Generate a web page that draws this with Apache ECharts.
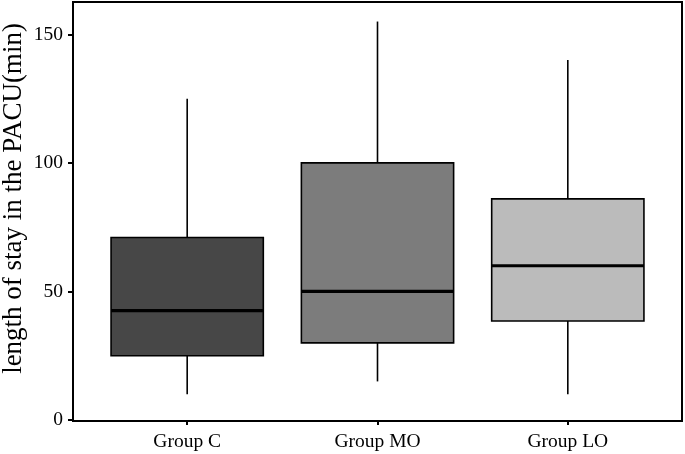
<!DOCTYPE html>
<html>
<head>
<meta charset="utf-8">
<script src="https://cdn.jsdelivr.net/npm/echarts@6/dist/echarts.min.js"></script>
<style>html,body{margin:0;padding:0;background:#fff}#c{width:685px;height:454px}</style>
</head>
<body>
<div id="c"></div>
<script>
// Data
const groups = ['Group C', 'Group MO', 'Group LO'];
const whiskerLow = [10, 15, 10];
const q1 = [25, 30, 38.5];
const median = [42.5, 50, 60];
const q3 = [71, 100, 86];
const whiskerHigh = [125, 155, 140];
const yTicks = [0, 50, 100, 150];
const yTitle = 'length of stay in the PACU(min)';

// Styles
const fills = ['#474747', '#7c7c7c', '#bbbbbb'];
const FONT = "'Liberation Serif', 'DejaVu Serif', serif";

const positions = groups.map((g, i) => i + 1);
const boxData = groups.map((g, i) => [positions[i], whiskerLow[i], q1[i], median[i], q3[i], whiskerHigh[i]]);

const chart = echarts.init(document.getElementById('c'), null, {renderer: 'canvas'});
chart.setOption({
  animation: false,
  backgroundColor: '#fff',
  grid: {left: 73, right: 3, top: 2, bottom: 33, show: true, borderColor: '#000', borderWidth: 2, backgroundColor: 'transparent'},
  xAxis: {
    type: 'value', min: 0.4, max: 3.6,
    splitLine: {show: false},
    axisLine: {show: false},
    axisTick: {show: true, length: 5, lineStyle: {color: '#000', width: 2}, customValues: positions},
    axisLabel: {
      customValues: positions, margin: 11,
      color: '#000', fontFamily: FONT, fontSize: 19.5,
      formatter: v => groups[Math.round(v) - 1] || ''
    }
  },
  yAxis: {
    type: 'value', min: -0.4, max: 162.6,
    splitLine: {show: false},
    axisLine: {show: false},
    axisTick: {show: true, length: 5, lineStyle: {color: '#000', width: 2}, customValues: yTicks},
    axisLabel: {customValues: yTicks, margin: 10, color: '#000', fontFamily: FONT, fontSize: 19.5}
  },
  graphic: [{
    type: 'text', x: 14, y: 198.5, rotation: Math.PI / 2,
    style: {text: yTitle, fill: '#000', font: '27px ' + FONT, textAlign: 'center', textVerticalAlign: 'middle'}
  }],
  series: [{
    type: 'custom',
    data: boxData,
    encode: {x: 0, y: [1, 2, 3, 4, 5]},
    renderItem: function (params, api) {
      const x = api.value(0);
      const pLo = api.coord([x, api.value(1)]);
      const pQ1 = api.coord([x, api.value(2)]);
      const pMed = api.coord([x, api.value(3)]);
      const pQ3 = api.coord([x, api.value(4)]);
      const pHi = api.coord([x, api.value(5)]);
      const w = api.size([0.8, 0])[0];
      const cx = pMed[0];
      const idx = params.dataIndex;
      return {
        type: 'group',
        children: [
          {type: 'line', shape: {x1: cx, y1: pQ3[1], x2: cx, y2: pHi[1]}, style: {stroke: '#000', lineWidth: 1.6}},
          {type: 'line', shape: {x1: cx, y1: pQ1[1], x2: cx, y2: pLo[1]}, style: {stroke: '#000', lineWidth: 1.6}},
          {type: 'rect', shape: {x: cx - w / 2, y: pQ3[1], width: w, height: pQ1[1] - pQ3[1]}, style: {fill: fills[idx], stroke: '#000', lineWidth: 1.6}},
          {type: 'line', shape: {x1: cx - w / 2, y1: pMed[1], x2: cx + w / 2, y2: pMed[1]}, style: {stroke: '#000', lineWidth: 3.2}}
        ]
      };
    }
  }]
});
</script>
</body>
</html>
